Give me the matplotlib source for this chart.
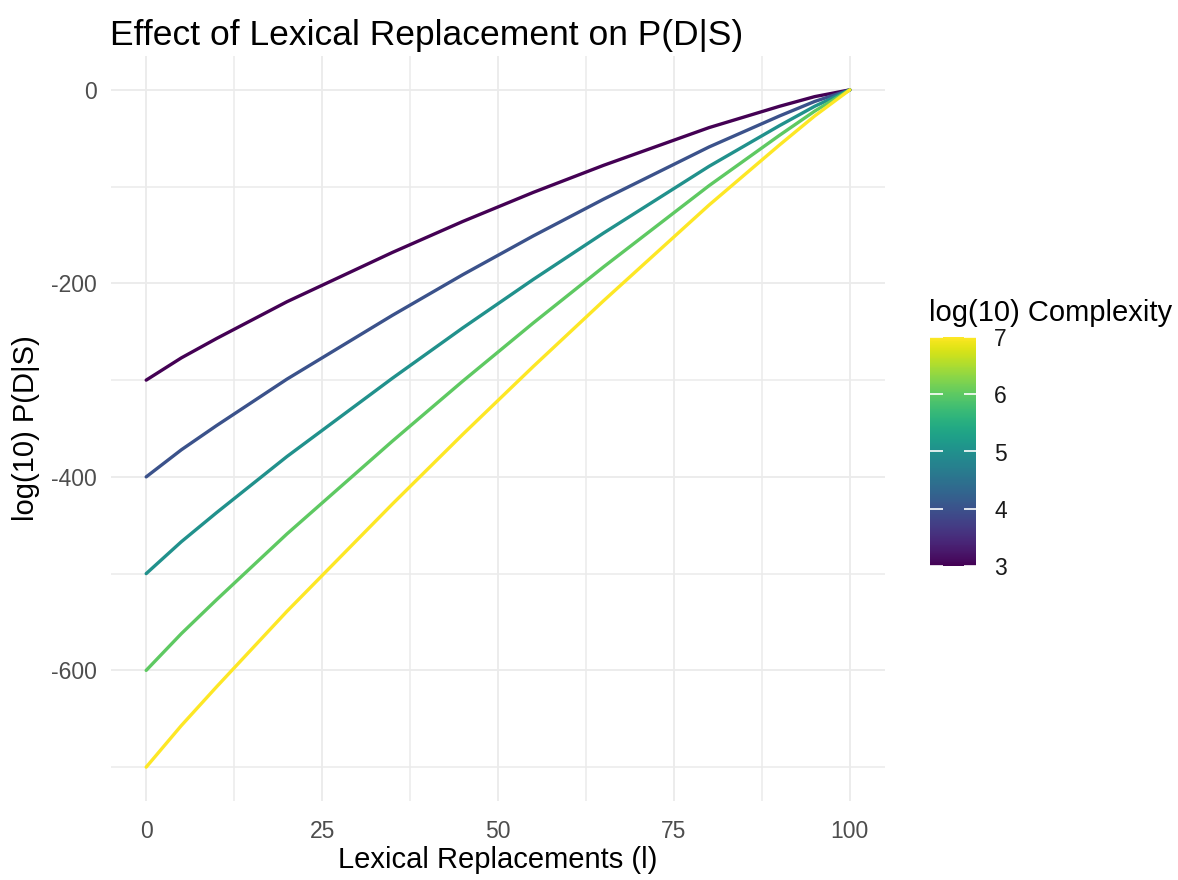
import matplotlib
matplotlib.use("Agg")
import matplotlib.pyplot as plt
import matplotlib as mpl
import numpy as np

plt.rcParams['font.family'] = ['Liberation Sans', 'DejaVu Sans']
plt.rcParams['axes.unicode_minus'] = False

# lexical replacements l
replacements = [0, 5, 10, 15, 20, 25, 30, 35, 40, 45, 50,
                55, 60, 65, 70, 75, 80, 85, 90, 95, 100]

# log10 complexity of each run
complexity = [3, 4, 5, 6, 7]

# log10 P(D|S) per complexity
logp_c3 = [-300, -277, -257, -238, -219, -202, -185, -168, -152, -136, -121,
           -106, -92, -78, -65, -52, -39, -28, -17, -7, 0]
logp_c4 = [-400, -372, -347, -323, -299, -277, -255, -233, -212, -191, -171,
           -151, -132, -113, -95, -77, -59, -43, -27, -12, 0]
logp_c5 = [-500, -467, -437, -408, -379, -352, -325, -298, -272, -246, -221,
           -196, -172, -148, -125, -102, -79, -58, -37, -17, 0]
logp_c6 = [-600, -562, -527, -493, -459, -427, -395, -363, -332, -301, -271,
           -241, -212, -183, -155, -127, -99, -73, -47, -22, 0]
logp_c7 = [-700, -657, -617, -578, -539, -502, -465, -428, -392, -356, -321,
           -286, -252, -218, -185, -152, -119, -88, -57, -27, 0]
series = [logp_c3, logp_c4, logp_c5, logp_c6, logp_c7]

W, H = 1178, 880
fig = plt.figure(figsize=(W / 100, H / 100), dpi=100)
ax = fig.add_axes([111 / W, 1 - 801 / H, (885 - 111) / W, (801 - 56) / H])

cmap = plt.get_cmap("viridis")
norm = mpl.colors.Normalize(vmin=3, vmax=7)

for c, ys in zip(complexity, series):
    ax.plot(replacements, ys, color=cmap(norm(c)), lw=2.4, solid_capstyle="round", zorder=3)

ax.set_xlim(-5, 105)
ax.set_ylim(-735, 35)
ax.set_xticks([0, 25, 50, 75, 100])
ax.set_xticks([12.5, 37.5, 62.5, 87.5], minor=True)
ax.set_yticks([0, -200, -400, -600])
ax.set_yticks([-100, -300, -500, -700], minor=True)
ax.grid(which="major", color="#EBEBEB", lw=1.3)
ax.grid(which="minor", color="#EBEBEB", lw=1.1)
ax.set_axisbelow(True)
for s in ax.spines.values():
    s.set_visible(False)
ax.tick_params(which="both", length=0, labelsize=16.5, labelcolor="#4D4D4D")
ax.tick_params(axis="x", pad=14)
ax.tick_params(axis="y", pad=10)

# titles
fig.text(498 / W, 1 - 860 / H, "Lexical Replacements (l)", fontsize=21, ha="center", va="center")
fig.text(26 / W, 1 - 428 / H, "log(10) P(D|S)", fontsize=21, ha="center", va="center",
         rotation=90)
fig.text(110 / W, 1 - 45 / H, "Effect of Lexical Replacement on P(D|S)",
         fontsize=25.5, ha="left", va="baseline")

# colour bar legend
cax = fig.add_axes([930 / W, 1 - 566 / H, 46 / W, 229 / H])
cb = mpl.colorbar.ColorbarBase(cax, cmap=cmap, norm=norm, ticks=complexity)
cb.outline.set_visible(False)
cax.tick_params(which="both", direction="in", color="white", length=9, width=1.2,
                left=True, right=True, labelleft=False, labelright=True,
                labelsize=16.5, labelcolor="#1A1A1A", pad=13)
cax.minorticks_off()
fig.text(929 / W, 1 - 321 / H, "log(10) Complexity", fontsize=21, ha="left", va="baseline")

fig.savefig("out.png", dpi=100, facecolor="white")
